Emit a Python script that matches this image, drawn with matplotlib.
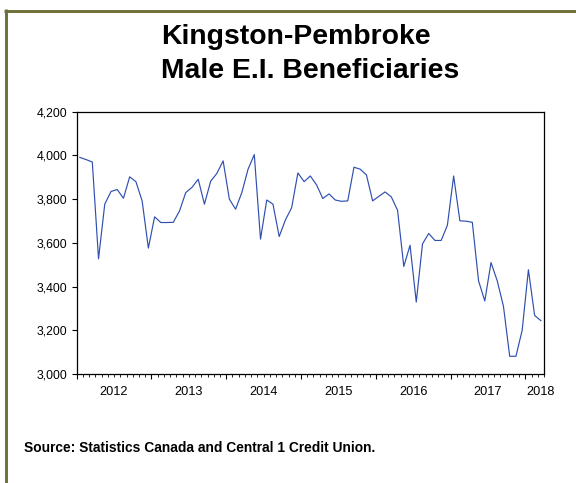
import numpy as np
import matplotlib.pyplot as plt
from matplotlib.lines import Line2D
from matplotlib.ticker import FixedLocator, FuncFormatter

# monthly values, Jan 2012 .. Mar 2018
y2012 = [3991, 3981, 3970, 3527, 3777, 3835, 3844, 3804, 3902, 3880, 3792, 3576]
y2013 = [3719, 3693, 3693, 3694, 3746, 3830, 3854, 3891, 3777, 3882, 3918, 3975]
y2014 = [3800, 3754, 3830, 3937, 4004, 3617, 3796, 3777, 3629, 3705, 3761, 3920]
y2015 = [3880, 3906, 3865, 3803, 3824, 3796, 3790, 3792, 3946, 3937, 3911, 3792]
y2016 = [3813, 3833, 3810, 3749, 3492, 3589, 3329, 3595, 3643, 3611, 3611, 3681]
y2017 = [3906, 3701, 3699, 3694, 3426, 3334, 3510, 3426, 3309, 3081, 3081, 3200]
y2018 = [3477, 3268, 3244]

years = ["2012", "2013", "2014", "2015", "2016", "2017", "2018"]
yticks = [3000, 3200, 3400, 3600, 3800, 4000, 4200]

values = y2012 + y2013 + y2014 + y2015 + y2016 + y2017 + y2018
n = len(values)
x = np.arange(n) + 0.5

plt.rcParams["font.family"] = ["Liberation Sans", "DejaVu Sans"]

fig = plt.figure(figsize=(5.76, 4.83), dpi=100)
fig.patch.set_facecolor("white")
ax = fig.add_axes([0.1332, 0.2257, 0.8112, 0.543])

ax.plot(x, values, color="#2f4fb0", lw=0.85)

ax.set_xlim(0, n)
ax.set_ylim(3000, 4200)
ax.set_yticks(yticks)
ax.yaxis.set_major_formatter(FuncFormatter(lambda v, p: "{:,.0f}".format(v)))
ax.tick_params(axis="y", direction="out", length=3.6, width=0.8, pad=3.2, labelsize=8.8)

# year boundaries as major ticks, months as minor ticks
ax.xaxis.set_major_locator(FixedLocator(np.arange(0, n + 1, 12)))
ax.xaxis.set_minor_locator(FixedLocator(np.arange(0, n + 1)))
ax.set_xticklabels([])
ax.tick_params(axis="x", which="major", direction="out", length=3.6, width=0.8)
ax.tick_params(axis="x", which="minor", direction="out", length=1.8, width=0.6)

label_pos = [6, 18, 30, 42, 54, 66, 74.4]
for pos, yr in zip(label_pos, years):
    ax.text(pos, -0.045, yr, transform=ax.get_xaxis_transform(), ha="center", va="top",
            fontsize=9.2)

for s in ax.spines.values():
    s.set_linewidth(0.9)
    s.set_color("black")

# title
fig.text(161 / 576, 1 - 37 / 483, "Kingston-Pembroke", ha="left", va="center",
         fontsize=20.4, fontweight="bold")
fig.text(161 / 576, 1 - 71 / 483, "Male E.I. Beneficiaries", ha="left", va="center",
         fontsize=20.4, fontweight="bold")

fig.text(24 / 576, 1 - 448 / 483, "Source: Statistics Canada and Central 1 Credit Union.",
         ha="left", va="center", fontsize=9.9, fontweight="bold")

# olive frame at top and left
fig.add_artist(Line2D([4.3 / 576, 1], [1 - 10.6 / 483, 1 - 10.6 / 483],
                      transform=fig.transFigure, color="#6f6f3c", lw=2.1,
                      solid_capstyle="butt"))
fig.add_artist(Line2D([5.8 / 576, 5.8 / 576], [1 - 9.3 / 483, 0],
                      transform=fig.transFigure, color="#6f6f3c", lw=2.1,
                      solid_capstyle="butt"))

fig.savefig("out.png", dpi=100)
